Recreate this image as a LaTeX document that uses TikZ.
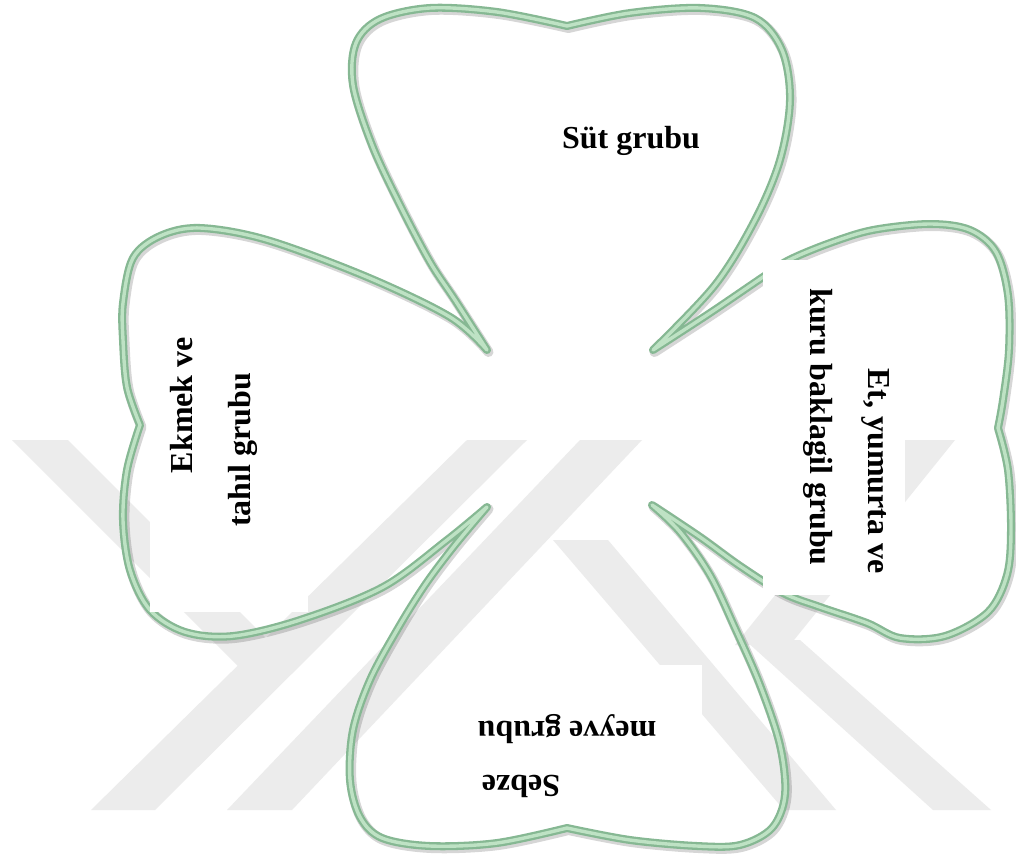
\documentclass[tikz,border=0pt]{standalone}
\usepackage{fontspec}
\setmainfont{Liberation Serif}
\definecolor{leafdark}{HTML}{86B893}
\definecolor{leaflight}{HTML}{BEE2C4}
\definecolor{wmgray}{HTML}{ECECEC}
\begin{document}
\begin{tikzpicture}[x=1pt,y=-1pt,
  leafedge/.style={line width=8pt, draw=leafdark, line join=round, line cap=round},
  leafcore/.style={line width=3.4pt, draw=leaflight, line join=round, line cap=round},
  leafshade/.style={line width=10pt, draw=black, opacity=0.16, line join=round},
  wm/.style={fill=wmgray, draw=none},
  patch/.style={fill=white, draw=none},
  lbl/.style={font=\fontsize{32}{38}\selectfont\bfseries, inner sep=0pt, anchor=base}]

% page
\fill[white] (0,0) rectangle (1016,862);
\useasboundingbox (0,0) rectangle (1016,862);

% faint background emblem
\fill[wm] (12,440) -- (68,440) -- (266,638) -- (238,666) -- cycle;
\fill[wm] (467,440) -- (527,440) -- (155,810) -- (91,810) -- cycle;
\fill[wm] (580,440) -- (642,440) -- (292,810) -- (227,810) -- cycle;
\fill[wm] (553,540) -- (608,540) -- (836,810) -- (784,810) -- cycle;
\fill[wm] (900,440) -- (955,440) -- (790,645) -- (735,645) -- cycle;
\fill[wm] (745,640) -- (800,640) -- (991,810) -- (933,810) -- cycle;

% four-leaf outline
\path[save path=\cloverpath]
  plot[smooth, tension=0.55] coordinates {(487,350) (455,300) (430,262) (400,205) (372,145) (353,85) (356,43) (380,19) (430,8) (497,12) (567,26)}
  -- plot[smooth, tension=0.55] coordinates {(567,26) (630,13) (700,8) (755,18) (782,50) (790,100) (780,160) (755,220) (715,285) (653,350)}
  -- plot[smooth, tension=0.55] coordinates {(653,350) (710,313) (763,277) (789,260) (830,243) (873,230) (930,224) (970,230) (996,252) (1008,295) (1009,350) (1003,400) (998,428)}
  -- plot[smooth, tension=0.55] coordinates {(998,428) (1008,470) (1011,530) (1007,575) (988,612) (945,636) (900,638) (867,623) (820,607) (783,593) (740,566) (700,537) (652,505)}
  -- plot[smooth, tension=0.55] coordinates {(652,505) (680,532) (710,575) (735,628) (760,685) (780,745) (785,795) (772,828) (740,845) (697,846) (630,840) (567,828)}
  -- plot[smooth, tension=0.55] coordinates {(567,828) (497,843) (430,846) (382,838) (360,817) (350,780) (353,730) (370,680) (397,630) (425,585) (455,545) (487,507)}
  -- plot[smooth, tension=0.55] coordinates {(487,507) (447,540) (383,587) (300,620) (233,636) (185,632) (150,610) (130,570) (123,520) (127,470) (140,425)}
  -- plot[smooth, tension=0.55] coordinates {(140,425) (127,387) (123,340) (123,303) (133,258) (160,236) (200,228) (267,240) (367,277) (450,317) (487,350)}
  -- cycle;

\begin{scope}[transform canvas={shift={(1.5pt,-2pt)}}]
  \draw[leafshade, use path=\cloverpath];
\end{scope}
\draw[leafedge, use path=\cloverpath];
\draw[leafcore, use path=\cloverpath];

% white label backings
\fill[patch] (150,300) rectangle (308,612);
\fill[patch] (763,260) rectangle (905,595);
\fill[patch] (430,665) rectangle (702,812);

% labels
\node[lbl] (sut) at (631,148) {Süt grubu};
\node[lbl, rotate=90] (ekmek) at (192,405) {Ekmek ve};
\node[lbl, rotate=90] (tahil) at (250,450) {tahıl grubu};
\node[lbl, rotate=-90] (et) at (868,471) {Et, yumurta ve};
\node[lbl, rotate=-90] (kuru) at (810,427) {kuru baklagil grubu};
\node[lbl, rotate=180] (meyve) at (567,721) {meyve grubu};
\node[lbl, rotate=180] (sebze) at (521,775) {Sebze};
\end{tikzpicture}
\end{document}
